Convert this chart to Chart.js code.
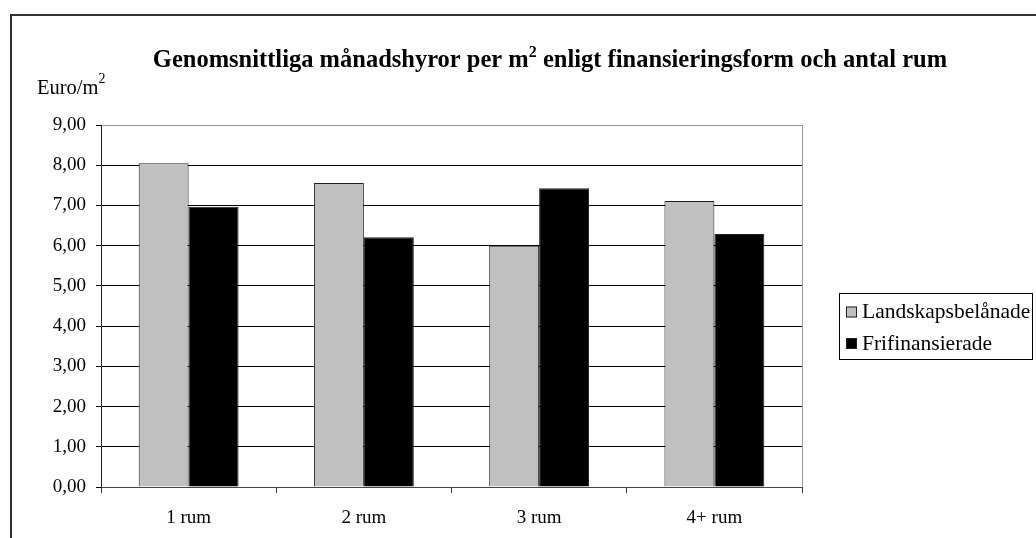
<!DOCTYPE html>
<html>
<head>
<meta charset="utf-8">
<script src="https://cdn.jsdelivr.net/npm/chart.js@4.4.1/dist/chart.umd.min.js"></script>
<style>
  html, body { margin: 0; padding: 0; background: #fff; }
  #wrap { width: 1036px; height: 538px; position: relative; }
</style>
</head>
<body>
<div id="wrap"><canvas id="chart"></canvas></div>
<script>
const categories  = ['1 rum', '2 rum', '3 rum', '4+ rum'];
const landskaps   = [8.05, 7.56, 6.00, 7.11];
const frifinans   = [6.97, 6.21, 7.43, 6.29];
const seriesNames = ['Landskapsbelånade', 'Frifinansierade'];
const seriesFill  = ['#c0c0c0', '#000000'];
const yMin = 0, yMax = 9, yStep = 1;

const SERIF = '"Liberation Serif", "Times New Roman", serif';
const fmtTick = v => Number(v).toFixed(2).replace('.', ',');

// frame, title with superscript, unit label, legend box
const decor = {
  id: 'decor',
  afterDraw(chart) {
    const c = chart.ctx, a = chart.chartArea;
    c.save();

    c.strokeStyle = '#333';
    c.lineWidth = 2;
    c.beginPath();
    c.moveTo(11, 538);
    c.lineTo(11, 15);
    c.lineTo(1036, 15);
    c.stroke();

    c.strokeStyle = '#999';
    c.lineWidth = 1;
    c.beginPath();
    c.moveTo(Math.round(a.right) + 0.5, a.top);
    c.lineTo(Math.round(a.right) + 0.5, a.bottom);
    c.stroke();

    // title
    c.fillStyle = '#000';
    c.textBaseline = 'alphabetic';
    c.textAlign = 'left';
    const t1 = 'Genomsnittliga månadshyror per m', t2 = ' enligt finansieringsform och antal rum';
    const big = 'bold 24.5px ' + SERIF, small = 'bold 16px ' + SERIF;
    c.font = big;
    const w1 = c.measureText(t1).width, w3 = c.measureText(t2).width;
    c.font = small;
    const w2 = c.measureText('2').width;
    let x = 550 - (w1 + w2 + w3) / 2;
    c.font = big;
    c.fillText(t1, x, 67);
    c.font = small;
    c.fillText('2', x + w1, 57);
    c.font = big;
    c.fillText(t2, x + w1 + w2, 67);

    // unit label
    c.font = '20.5px ' + SERIF;
    c.fillText('Euro/m', 37, 94);
    const wu = c.measureText('Euro/m').width;
    c.font = '14px ' + SERIF;
    c.fillText('2', 37 + wu, 83);

    // legend
    c.strokeStyle = '#000';
    c.lineWidth = 1;
    c.strokeRect(839.5, 293.5, 193, 66);
    const rows = [311.5, 343];
    c.font = '21.5px ' + SERIF;
    c.textBaseline = 'middle';
    seriesNames.forEach((n, i) => {
      c.fillStyle = seriesFill[i];
      c.fillRect(846, rows[i] - 5, 11, 11);
      c.strokeStyle = '#222';
      c.strokeRect(846.5, rows[i] - 4.5, 10, 10);
      c.fillStyle = '#000';
      c.fillText(n, 862, rows[i] + 1);
    });
    c.restore();
  }
};

new Chart(document.getElementById('chart'), {
  type: 'bar',
  data: {
    labels: categories,
    datasets: [
      { label: seriesNames[0], data: landskaps, backgroundColor: seriesFill[0], borderColor: '#222', borderWidth: 1 },
      { label: seriesNames[1], data: frifinans, backgroundColor: seriesFill[1], borderColor: '#222', borderWidth: 1 },
    ],
  },
  options: {
    responsive: true,
    maintainAspectRatio: false,
    animation: false,
    devicePixelRatio: 1,
    datasets: { bar: { barPercentage: 1, categoryPercentage: 0.57 } },
    layout: { padding: { left: 0, top: 125, right: 234, bottom: 0 } },
    plugins: {
      legend:  { display: false },
      title:   { display: false },
      tooltip: { enabled: false },
    },
    scales: {
      x: {
        grid: { drawOnChartArea: false, offset: true, tickLength: 6, tickColor: '#333' },
        border: { color: '#444', width: 1 },
        ticks: { color: '#000', font: { family: SERIF, size: 19 }, padding: 14, maxRotation: 0 },
        afterFit: s => { s.height = 51; },
      },
      y: {
        min: yMin, max: yMax,
        ticks: { stepSize: yStep, color: '#000', font: { family: SERIF, size: 19 }, padding: 10, callback: fmtTick },
        grid: {
          color: ctx => (ctx.tick && ctx.tick.value === yMax ? '#999' : '#000'),
          tickColor: '#000',
          tickLength: 5,
        },
        border: { color: '#222', width: 1 },
        afterFit: s => { s.width = 101; },
      },
    },
  },
  plugins: [decor],
});
</script>
</body>
</html>
